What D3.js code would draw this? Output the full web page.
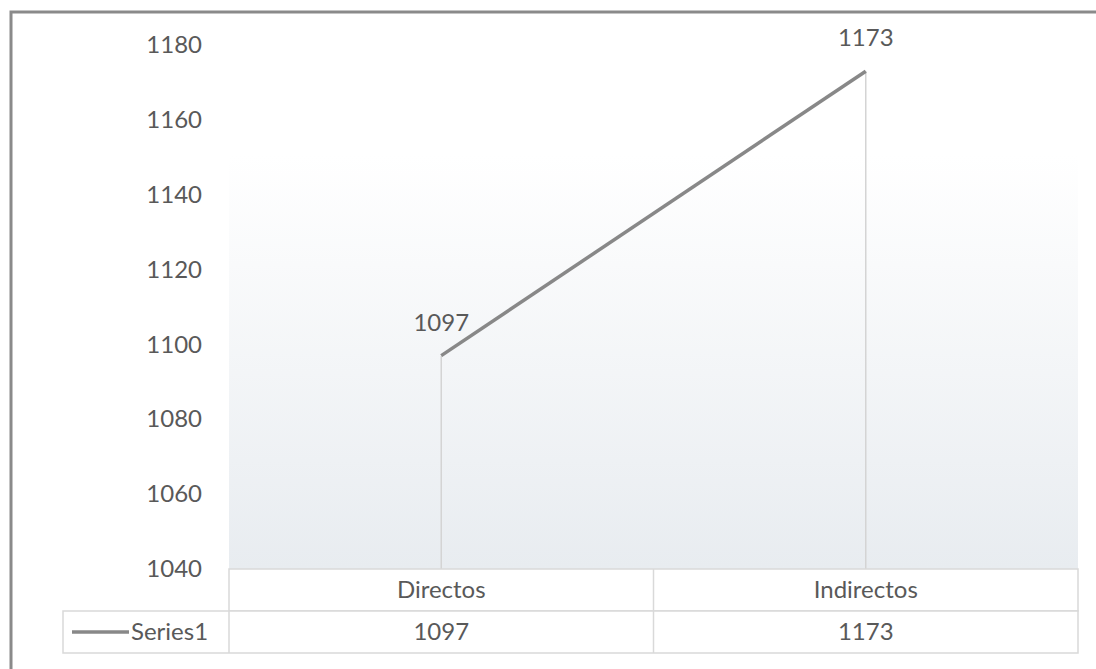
<!DOCTYPE html>
<html>
<head>
<meta charset="utf-8">
<script src="https://cdn.jsdelivr.net/npm/d3@7"></script>
<style>
  html, body { margin: 0; padding: 0; background: #fff; }
  svg { display: block; }
  text { font-family: Lato, "Open Sans", sans-serif; fill: #595959; }
</style>
</head>
<body>
<svg id="chart" width="1096" height="669"></svg>
<script>
// Data
const categories = ["Directos", "Indirectos"];
const seriesName = "Series1";
const seriesValues = [1097, 1173];
const yTicks = [1040, 1060, 1080, 1100, 1120, 1140, 1160, 1180];

const W = 1096, H = 669;
const plot = { left: 229, right: 1078, top: 45, bottom: 569 };
const rowH = 42;

const svg = d3.select("#chart");

// Outer frame (runs past the right and bottom edges)
svg.append("rect")
  .attr("x", 11).attr("y", 12)
  .attr("width", W + 20).attr("height", H + 20)
  .attr("fill", "#fff")
  .attr("stroke", "#8a8a8a").attr("stroke-width", 3);

const x = d3.scaleBand().domain(categories).range([plot.left, plot.right]);
const y = d3.scaleLinear().domain([1040, 1180]).range([plot.bottom, plot.top]);

// Soft gradient behind the lower part of the plot
const defs = svg.append("defs");
const grad = defs.append("linearGradient").attr("id", "plotFill")
  .attr("x1", 0).attr("y1", 0).attr("x2", 0).attr("y2", 1);
grad.append("stop").attr("offset", "0%").attr("stop-color", "#ffffff");
grad.append("stop").attr("offset", "100%").attr("stop-color", "#e8ecf0");

svg.append("rect")
  .attr("x", plot.left).attr("y", y(1150.5))
  .attr("width", plot.right - plot.left)
  .attr("height", plot.bottom - y(1150.5))
  .attr("fill", "url(#plotFill)");

// Y axis labels (no axis line, no ticks)
const yAxis = d3.axisLeft(y).tickValues(yTicks).tickFormat(d3.format("d"))
  .tickSize(0).tickPadding(0);
const gy = svg.append("g")
  .attr("transform", `translate(${202},0)`)
  .call(yAxis);
gy.select(".domain").remove();
gy.selectAll("text")
  .style("font-family", "Lato, sans-serif")
  .style("font-size", "24px")
  .attr("fill", "#595959");

const pts = categories.map((c, i) => ({ c, v: seriesValues[i] }));
const cx = d => x(d.c) + x.bandwidth() / 2;

// Drop lines
svg.append("g").selectAll("line").data(pts).join("line")
  .attr("x1", cx).attr("x2", cx)
  .attr("y1", d => y(d.v)).attr("y2", plot.bottom)
  .attr("stroke", "#d4d4d4").attr("stroke-width", 1.5);

// Series line
svg.append("path")
  .datum(pts)
  .attr("fill", "none")
  .attr("stroke", "#888888")
  .attr("stroke-width", 3.5)
  .attr("d", d3.line().x(cx).y(d => y(d.v)));

// Data labels
svg.append("g").selectAll("text").data(pts).join("text")
  .attr("x", cx)
  .attr("y", d => y(d.v) - 25)
  .attr("text-anchor", "middle")
  .style("font-size", "24px")
  .text(d => d.v);

// Data table
const tbl = svg.append("g");
const lineColor = "#d9d9d9";
const row1 = plot.bottom, row2 = plot.bottom + rowH, row3 = plot.bottom + 2 * rowH;
const legendLeft = 63;

// header row borders
tbl.append("rect")
  .attr("x", plot.left).attr("y", row1)
  .attr("width", plot.right - plot.left).attr("height", rowH)
  .attr("fill", "#fff").attr("stroke", lineColor).attr("stroke-width", 1.5);
// value row borders
tbl.append("rect")
  .attr("x", legendLeft).attr("y", row2)
  .attr("width", plot.right - legendLeft).attr("height", rowH)
  .attr("fill", "#fff").attr("stroke", lineColor).attr("stroke-width", 1.5);
// column separators
const seps = [plot.left].concat(categories.slice(1).map(c => x(c)));
tbl.selectAll("line.sep").data(seps).join("line")
  .attr("class", "sep")
  .attr("x1", d => d).attr("x2", d => d)
  .attr("y1", (d, i) => i === 0 ? row2 : row1).attr("y2", row3)
  .attr("stroke", lineColor).attr("stroke-width", 1.5);

// category labels
tbl.selectAll("text.cat").data(categories).join("text")
  .attr("class", "cat")
  .attr("x", c => x(c) + x.bandwidth() / 2)
  .attr("y", row1 + rowH / 2 + 8)
  .attr("text-anchor", "middle")
  .style("font-size", "24px")
  .text(c => c);

// value cells
tbl.selectAll("text.val").data(pts).join("text")
  .attr("class", "val")
  .attr("x", cx)
  .attr("y", row2 + rowH / 2 + 8)
  .attr("text-anchor", "middle")
  .style("font-size", "24px")
  .text(d => d.v);

// legend key
tbl.append("line")
  .attr("x1", 72).attr("x2", 129)
  .attr("y1", row2 + rowH / 2).attr("y2", row2 + rowH / 2)
  .attr("stroke", "#888888").attr("stroke-width", 3.5);
tbl.append("text")
  .attr("x", 131)
  .attr("y", row2 + rowH / 2 + 8)
  .style("font-size", "24px")
  .text(seriesName);
</script>
</body>
</html>
